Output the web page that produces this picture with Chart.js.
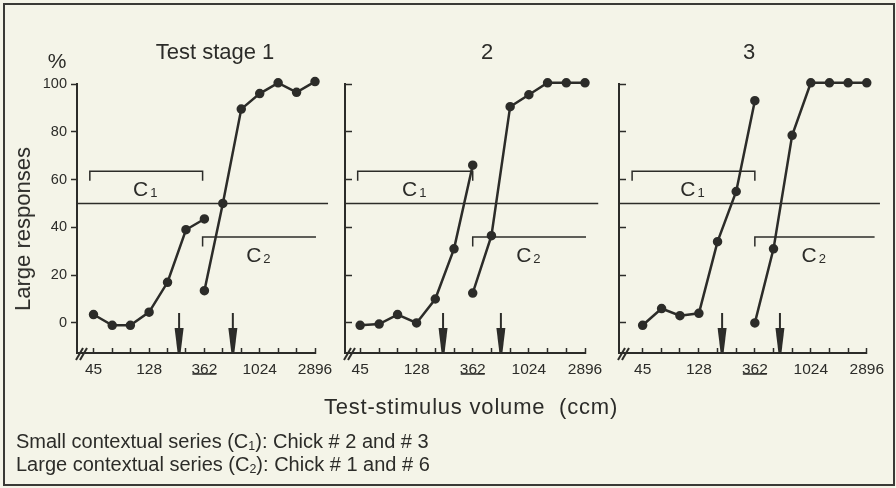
<!DOCTYPE html>
<html>
<head>
<meta charset="utf-8">
<script src="https://cdn.jsdelivr.net/npm/chart.js@4.4.1/dist/chart.umd.min.js"></script>
<style>
  body { margin: 0; background: #f4f4e8; }
  #fig { position: relative; width: 896px; height: 488px; background: #f4f4e8; overflow: hidden;
         font-family: "Liberation Sans", Arial, sans-serif; color: #2c2c29; }
  #frame { position: absolute; left: 3px; top: 3px; width: 892px; height: 483px;
           border: 2px solid #3a3a36; box-sizing: border-box; }
  canvas { position: absolute; left: 0; top: 0; }
  .t { position: absolute; white-space: nowrap; line-height: 1; transform: translate(-50%, -50%); }
  .l { position: absolute; white-space: nowrap; line-height: 1; transform: translateY(-50%); }
  sub { font-size: 62%; vertical-align: -0.15em; }
</style>
</head>
<body>
<div id="fig">
  <div id="frame"></div>
  <canvas id="p0" width="896" height="488"></canvas>
  <canvas id="p1" width="896" height="488"></canvas>
  <canvas id="p2" width="896" height="488"></canvas>
  <div class="t" style="left:215px;top:52px;font-size:22px">Test stage 1</div>
  <div class="t" style="left:487px;top:52px;font-size:22px">2</div>
  <div class="t" style="left:749px;top:52px;font-size:22px">3</div>
  <div class="t" style="left:57px;top:60px;font-size:21px">%</div>
  <div class="t" style="left:23px;top:229px;font-size:22px;transform:translate(-50%,-50%) rotate(-90deg)">Large responses</div>
  <div class="t" style="left:471px;top:407px;font-size:22px;letter-spacing:0.8px">Test-stimulus volume &nbsp;(ccm)</div>
  <div class="l" style="left:16px;top:442px;font-size:20px">Small contextual series (C<sub>1</sub>): Chick # 2 and # 3</div>
  <div class="l" style="left:16px;top:465px;font-size:20px">Large contextual series (C<sub>2</sub>): Chick # 1 and # 6</div>
</div>
<script>
// test-stimulus volumes (ccm), half-octave steps
var VOLUMES = [45, 64, 90, 128, 181, 256, 362, 512, 724, 1024, 1448, 2048, 2896];
var TICK_LABELS = [45, 128, 362, 1024, 2896];
var Y_TICKS = [0, 20, 40, 60, 80, 100];

// small series uses 45..362, large series 362..2896
var C1_VOLUMES = VOLUMES.slice(0, 7);
var C2_VOLUMES = VOLUMES.slice(6);

// % large responses, one row per test stage
var C1_RESPONSES = [
  [3.5, -1, -1, 4.5, 17, 39, 43.5],
  [-1, -0.5, 3.5, 0, 10, 31, 66],
  [-1, 6, 3, 4, 34, 55, 93]
];
var C2_RESPONSES = [
  [13.5, 50, 89.5, 96, 100.5, 96.5, 101],
  [12.5, 36.5, 90.5, 95.5, 100.5, 100.5, 100.5],
  [0, 31, 78.5, 100.5, 100.5, 100.5, 100.5]
];

// arrow positions (ccm)
var ARROWS = [[225, 618], [209, 610], [197, 577]];

// range of each contextual series bracket (ccm)
var C1_BRACKET = [[42, 350], [43, 362], [37, 362]];
var C2_BRACKET = [[350, 2950], [362, 2950], [362, 3350]];
var C1_LEVEL = 63.5, C2_LEVEL = 36;
var CRITERION = 50;
var CRITERION_END = 3700;

var INK = '#2c2c29';
var FONT = '"Liberation Sans", Arial, sans-serif';

// plot areas of the three panels
var AREAS = [
  { left: 77, right: 315 },
  { left: 345, right: 585 },
  { left: 619, right: 868 }
];
var XMIN = [33, 34, 29];
var TOP = 84, BOTTOM = 353;
var YAXIS_W = 40, XAXIS_H = 40;

function bracket(r, level) {
  return [{x: r[0], y: level - 4}, {x: r[0], y: level}, {x: r[1], y: level}, {x: r[1], y: level - 4}];
}

var extras = {
  id: 'extras',
  afterDatasetsDraw: function(chart, args, opts) {
    var i = opts.panel;
    var ctx = chart.ctx, x = chart.scales.x, y = chart.scales.y;
    var base = y.getPixelForValue(y.min);
    ctx.save();
    ctx.fillStyle = INK;
    ctx.strokeStyle = INK;

    // arrows
    ARROWS[i].forEach(function(v) {
      var px = x.getPixelForValue(v);
      ctx.lineWidth = 2;
      ctx.beginPath();
      ctx.moveTo(px, base - 40);
      ctx.lineTo(px, base - 20);
      ctx.stroke();
      ctx.beginPath();
      ctx.moveTo(px - 4.5, base - 25);
      ctx.lineTo(px + 4.5, base - 25);
      ctx.lineTo(px + 1.5, base);
      ctx.lineTo(px - 1.5, base);
      ctx.closePath();
      ctx.fill();
    });

    // axis break
    ctx.lineWidth = 2;
    for (var k = 0; k < 2; k++) {
      ctx.beginPath();
      ctx.moveTo(chart.chartArea.left - 1 + k * 4, base + 7);
      ctx.lineTo(chart.chartArea.left + 6 + k * 4, base - 5);
      ctx.stroke();
    }

    // underline of 362
    var u = x.getPixelForValue(362);
    ctx.lineWidth = 1.5;
    ctx.beginPath();
    ctx.moveTo(u - 12, base + 21);
    ctx.lineTo(u + 12, base + 21);
    ctx.stroke();

    // bracket labels
    [[C1_BRACKET[i], C1_LEVEL, '1'], [C2_BRACKET[i], C2_LEVEL, '2']].forEach(function(b) {
      var mid = (x.getPixelForValue(b[0][0]) + x.getPixelForValue(b[0][1])) / 2;
      var py = y.getPixelForValue(b[1]) + 25;
      ctx.font = '21px ' + FONT;
      ctx.textBaseline = 'alphabetic';
      ctx.textAlign = 'right';
      ctx.fillText('C', mid + 2, py);
      ctx.font = '13px ' + FONT;
      ctx.textAlign = 'left';
      ctx.fillText(b[2], mid + 4, py + 1);
    });
    ctx.restore();
  }
};

for (var i = 0; i < 3; i++) {
  (function(i) {
    var line = { borderColor: INK, backgroundColor: INK, pointBackgroundColor: INK, pointBorderColor: INK,
                 borderWidth: 2.5, pointRadius: 3.5, tension: 0, clip: false };
    var thin = { borderColor: INK, borderWidth: 1.5, pointRadius: 0, tension: 0, clip: false };
    new Chart(document.getElementById('p' + i), {
      type: 'line',
      data: {
        datasets: [
          Object.assign({ label: 'C1', data: C1_VOLUMES.map(function(v, j) { return {x: v, y: C1_RESPONSES[i][j]}; }) }, line),
          Object.assign({ label: 'C2', data: C2_VOLUMES.map(function(v, j) { return {x: v, y: C2_RESPONSES[i][j]}; }) }, line),
          Object.assign({ label: '50%', data: [{x: XMIN[i], y: CRITERION}, {x: CRITERION_END, y: CRITERION}] }, thin),
          Object.assign({ label: 'C1 range', data: bracket(C1_BRACKET[i], C1_LEVEL) }, thin),
          Object.assign({ label: 'C2 range', data: bracket(C2_BRACKET[i], C2_LEVEL) }, thin)
        ]
      },
      options: {
        responsive: false,
        animation: false,
        layout: { padding: {
          left: AREAS[i].left - YAXIS_W, right: 896 - AREAS[i].right,
          top: TOP, bottom: 488 - BOTTOM - XAXIS_H } },
        plugins: { legend: { display: false }, tooltip: { enabled: false }, extras: { panel: i } },
        scales: {
          x: {
            type: 'logarithmic',
            min: XMIN[i],
            max: 2896,
            afterBuildTicks: function(s) { s.ticks = VOLUMES.map(function(v) { return {value: v}; }); },
            afterFit: function(s) { s.height = XAXIS_H; },
            ticks: {
              autoSkip: false, maxRotation: 0, padding: 12, color: INK,
              font: { family: FONT, size: 15.5 },
              callback: function(v) { return TICK_LABELS.indexOf(v) >= 0 ? String(v) : ''; }
            },
            grid: { drawOnChartArea: false, tickLength: -5, tickWidth: 1.5, tickColor: INK },
            border: { color: INK, width: 2 }
          },
          y: {
            min: -12.6,
            max: 100,
            afterBuildTicks: function(s) { s.ticks = Y_TICKS.map(function(v) { return {value: v}; }); },
            afterFit: function(s) { s.width = YAXIS_W; },
            ticks: {
              padding: 4, color: INK,
              font: { family: FONT, size: 14.5 },
              callback: function(v) { return i === 0 ? String(v) : ''; }
            },
            grid: { drawOnChartArea: false, tickLength: i === 0 ? 6 : -7, tickWidth: 1.5, tickColor: INK },
            border: { color: INK, width: 2 }
          }
        }
      },
      plugins: [extras]
    });
  })(i);
}
</script>
</body>
</html>
